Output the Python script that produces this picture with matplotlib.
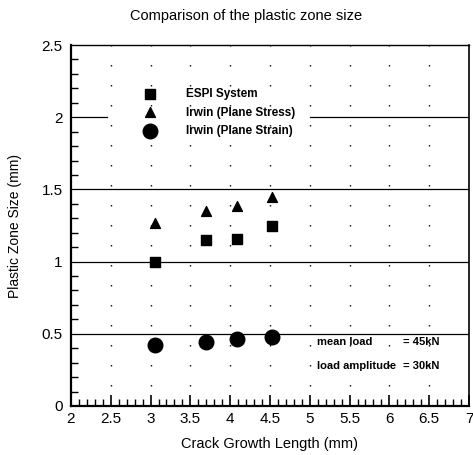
import matplotlib
matplotlib.use("Agg")
import matplotlib.pyplot as plt
import numpy as np
from matplotlib.ticker import MultipleLocator

plt.rcParams['font.family'] = ['Liberation Sans', 'DejaVu Sans']

crack_len = [3.05, 3.70, 4.08, 4.52]
espi = [1.00, 1.15, 1.16, 1.25]
irwin_stress = [1.27, 1.35, 1.385, 1.45]
irwin_strain = [0.42, 0.443, 0.464, 0.478]

fig = plt.figure(figsize=(4.73, 4.55), dpi=100)
ax = fig.add_axes([0.150, 0.1077, 0.8415, 0.7933])
ax.set_xlim(2, 7)
ax.set_ylim(0, 2.5)

# dotted vertical grid (dots every 0.1 in y)
for xv in np.arange(2.5, 7.0, 0.5):
    ax.axvline(xv, color='black', lw=1.0, linestyle=(0, (1, 13.4)), zorder=0)

# solid horizontal lines
for yv in [0.5, 1.0, 1.5]:
    ax.axhline(yv, color='black', lw=0.9, zorder=1)
ax.axhline(2.0, xmin=0, xmax=0.09, color='black', lw=0.9, zorder=1)
ax.axhline(2.0, xmin=0.6, xmax=1, color='black', lw=0.9, zorder=1)

ax.scatter(crack_len, espi, marker='s', s=55, color='black', label='ESPI System', zorder=3)
ax.scatter(crack_len, irwin_stress, marker='^', s=50, color='black', label='Irwin (Plane Stress)', zorder=3)
ax.scatter(crack_len, irwin_strain, marker='o', s=110, color='black', label='Irwin (Plane Strain)', zorder=3)

leg = ax.legend(loc='upper left', bbox_to_anchor=(0.158, 0.893), frameon=False,
                prop={'size': 8.5, 'weight': 'bold'}, handletextpad=2.0,
                labelspacing=0.52, borderaxespad=0)

ax.text(5.09, 0.445, 'mean load', fontsize=8, fontweight='bold', va='center')
ax.text(6.17, 0.445, '= 45kN', fontsize=8, fontweight='bold', va='center')
ax.text(5.09, 0.277, 'load amplitude', fontsize=8, fontweight='bold', va='center')
ax.text(6.17, 0.277, '= 30kN', fontsize=8, fontweight='bold', va='center')

ax.xaxis.set_major_locator(MultipleLocator(0.5))
ax.xaxis.set_minor_locator(MultipleLocator(0.1))
ax.yaxis.set_major_locator(MultipleLocator(0.5))
ax.yaxis.set_minor_locator(MultipleLocator(0.1))
ax.xaxis.set_major_formatter(matplotlib.ticker.FuncFormatter(lambda v, p: ('%g' % v)))
ax.yaxis.set_major_formatter(matplotlib.ticker.FuncFormatter(lambda v, p: ('%g' % v)))
ax.tick_params(axis='x', which='major', direction='in', length=8, width=1.2, labelsize=11, pad=4)
ax.tick_params(axis='x', which='minor', direction='in', length=5, width=1.0)
ax.tick_params(axis='y', which='major', direction='in', length=0, labelsize=11, pad=6)
ax.tick_params(axis='y', which='minor', direction='in', length=5, width=1.0)

for s in ['left', 'bottom']:
    ax.spines[s].set_linewidth(1.6)
ax.spines['right'].set_linewidth(1.2)
ax.spines['top'].set_linewidth(1.0)

ax.set_xlabel('Crack Growth Length (mm)', fontsize=10.5, labelpad=8)
ax.set_ylabel('Plastic Zone Size (mm)', fontsize=10, labelpad=14)
fig.text(0.52, 0.965, 'Comparison of the plastic zone size', fontsize=10.5, ha='center', va='center')

fig.savefig('out.png', dpi=100)
